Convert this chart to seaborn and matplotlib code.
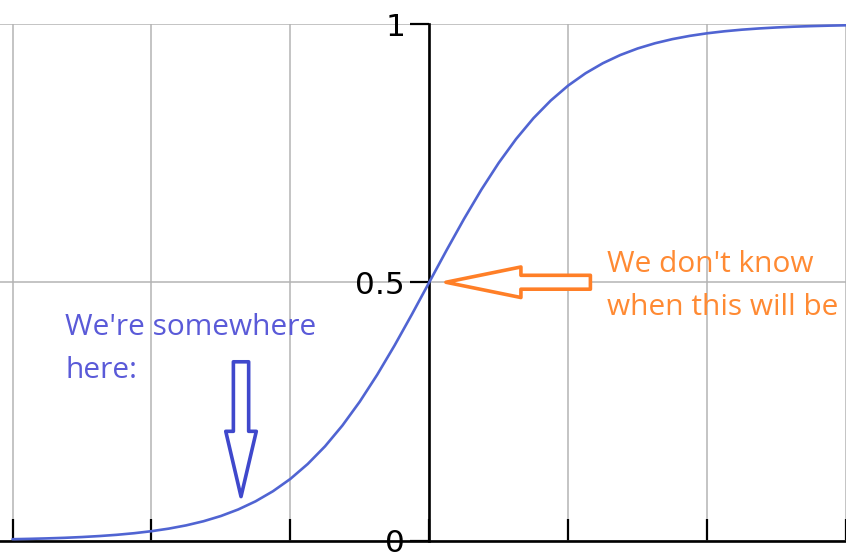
import matplotlib
matplotlib.use("Agg")
import matplotlib.pyplot as plt
import seaborn as sns
import pandas as pd

# Curve values (logistic-shaped S curve)
x_vals = [-6, -5.75, -5.5, -5.25, -5, -4.75, -4.5, -4.25, -4, -3.75, -3.5, -3.25,
          -3, -2.75, -2.5, -2.25, -2, -1.75, -1.5, -1.25, -1, -0.75, -0.5, -0.25,
          0, 0.25, 0.5, 0.75, 1, 1.25, 1.5, 1.75, 2, 2.25, 2.5, 2.75, 3, 3.25,
          3.5, 3.75, 4, 4.25, 4.5, 4.75, 5, 5.25, 5.5, 5.75, 6]
y_vals = [0.0025, 0.0032, 0.0041, 0.0052, 0.0067, 0.0086, 0.011, 0.0141, 0.018,
          0.023, 0.0293, 0.0373, 0.0474, 0.0601, 0.0759, 0.0954, 0.1192, 0.1481,
          0.1824, 0.2227, 0.2689, 0.3208, 0.3775, 0.4378, 0.5, 0.5622, 0.6225,
          0.6792, 0.7311, 0.7773, 0.8176, 0.8519, 0.8808, 0.9046, 0.9241, 0.9399,
          0.9526, 0.9627, 0.9707, 0.977, 0.982, 0.9859, 0.989, 0.9914, 0.9933,
          0.9948, 0.9959, 0.9968, 0.9975]

x_ticks = [-6, -4, -2, 0, 2, 4, 6]
y_ticks = [0, 0.5, 1]
y_tick_labels = ["0", "0.5", "1"]

note_left = "We're somewhere\nhere:"
note_right = "We don't know\nwhen this will be"

sns.set_style("white")
plt.rcParams["font.family"] = ["DejaVu Sans"]

fig = plt.figure(figsize=(8.46, 5.52), dpi=100)
ax = fig.add_axes([0, 11.5 / 552, 1, (540.5 - 24) / 552])

df = pd.DataFrame({"x": x_vals, "y": y_vals})
sns.lineplot(data=df, x="x", y="y", ax=ax, color="#5064d2", linewidth=1.9, zorder=4)

ax.set_xlim(-6.18, 5.95)
ax.set_ylim(0, 1)
ax.set_xlabel("")
ax.set_ylabel("")

for s in ["top", "right"]:
    ax.spines[s].set_visible(False)
ax.spines["left"].set_position(("data", 0))
ax.spines["left"].set_linewidth(1.9)
ax.spines["left"].set_color("black")
ax.spines["bottom"].set_linewidth(1.9)
ax.spines["bottom"].set_color("black")

ax.set_xticks(x_ticks)
ax.set_xticklabels([])
ax.set_yticks(y_ticks)
ax.set_yticklabels(y_tick_labels)

ax.grid(True, color="#b4b4b4", linewidth=1.1, zorder=0)
ax.set_axisbelow(True)

ax.tick_params(axis="x", direction="in", length=16, width=1.6, color="black",
               bottom=True)
ax.tick_params(axis="y", direction="out", length=14, width=1.6, color="black",
               pad=3.5, left=True, labelcolor="black", labelsize=22.5)

# Orange hollow arrow pointing left to the midpoint
ax.annotate("", xy=(0.24, 0.5), xytext=(2.32, 0.5),
            arrowprops=dict(arrowstyle="simple,head_length=54,head_width=22,tail_width=10",
                            mutation_scale=1, fc="white", ec="#ff7f27", lw=2.6,
                            shrinkA=0, shrinkB=0), zorder=5)

# Blue hollow arrow pointing down at the curve
ax.annotate("", xy=(-2.71, 0.085), xytext=(-2.71, 0.346),
            arrowprops=dict(arrowstyle="simple,head_length=47,head_width=22,tail_width=11",
                            mutation_scale=1, fc="white", ec="#3f48cc", lw=2.6,
                            shrinkA=0, shrinkB=0), zorder=5)

ax.text(-5.24, 0.3146, note_left, color="#5a5ad8", fontsize=21.5,
        family=["Open Sans", "DejaVu Sans"],
        va="baseline", ha="left", linespacing=1.62, zorder=6)
ax.text(2.56, 0.4366, note_right, color="#ff8a33", fontsize=21.5,
        family=["Open Sans", "DejaVu Sans"],
        va="baseline", ha="left", linespacing=1.62, zorder=6)

fig.savefig("out.png", dpi=100)
